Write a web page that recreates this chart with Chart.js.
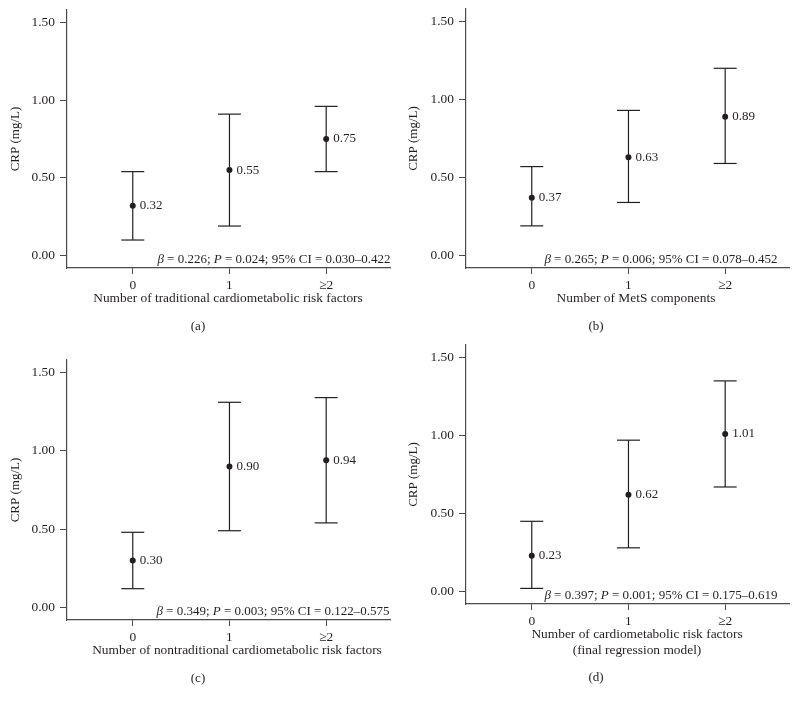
<!DOCTYPE html>
<html lang="en">
<head>
    <meta charset="UTF-8">
    <title>CRP by number of risk factors</title>
    <script src="https://cdn.jsdelivr.net/npm/chart.js"></script>
    <style>
        body { margin: 0; background: #fff; }
        .panel { position: absolute; }
    </style>
</head>
<body>
    <div class="panel" id="pa" style="left:0;top:0;width:398px;height:340px"><canvas id="chartA"></canvas></div>
    <div class="panel" id="pb" style="left:398px;top:0;width:399px;height:340px"><canvas id="chartB"></canvas></div>
    <div class="panel" id="pc" style="left:0;top:340px;width:398px;height:364px"><canvas id="chartC"></canvas></div>
    <div class="panel" id="pd" style="left:398px;top:340px;width:399px;height:364px"><canvas id="chartD"></canvas></div>
    <script>
        // categories and ticks
        const categories = ['0', '1', '\u22652'];
        const xTicks = [0, 1, 2];
        const yTicks = [0, 0.5, 1.0, 1.5];
        const yTickLabels = ['0.00', '0.50', '1.00', '1.50'];

        // geometric means and 95% CI bounds, per panel
        const meansA = [0.32, 0.55, 0.75];
        const lowerA = [0.10, 0.19, 0.54];
        const upperA = [0.54, 0.91, 0.96];

        const meansB = [0.37, 0.63, 0.89];
        const lowerB = [0.19, 0.34, 0.59];
        const upperB = [0.57, 0.93, 1.20];

        const meansC = [0.30, 0.90, 0.94];
        const lowerC = [0.12, 0.49, 0.54];
        const upperC = [0.48, 1.31, 1.34];

        const meansD = [0.23, 0.62, 1.01];
        const lowerD = [0.02, 0.28, 0.67];
        const upperD = [0.45, 0.97, 1.35];

        // regression statistics per panel
        const betas = ['0.226', '0.265', '0.349', '0.397'];
        const pValues = ['0.024', '0.006', '0.003', '0.001'];
        const ciRanges = ['0.030\u20130.422', '0.078\u20130.452', '0.122\u20130.575', '0.175\u20130.619'];

        const xTitles = [
            ['Number of traditional cardiometabolic risk factors'],
            ['Number of MetS components'],
            ['Number of nontraditional cardiometabolic risk factors'],
            ['Number of cardiometabolic risk factors', '(final regression model)']
        ];
        const panelLabels = ['(a)', '(b)', '(c)', '(d)'];
        const yTitle = 'CRP (mg/L)';

        const FONT = "'Liberation Serif', 'Times New Roman', serif";
        const INK = '#231f20';
        const AXIS = '#4a4a4a';

        // plot frame per panel (canvas-local pixels)
        const frames = [
            { left: 67, top: 10, right: 8, xh: 72, titleX: 228, annX: 274, labelY: 62 },
            { left: 68, top: 9, right: 8, xh: 72, titleX: 238, annX: 263, labelY: 62 },
            { left: 67, top: 20, right: 8, xh: 84, titleX: 237, annX: 273, labelY: 62 },
            { left: 68, top: 5, right: 8, xh: 100, titleX: 239, annX: 263, labelY: 77 }
        ];

        const panelText = {
            id: 'panelText',
            afterDraw(chart, args, opts) {
                const ctx = chart.ctx;
                const area = chart.chartArea;
                ctx.save();
                ctx.fillStyle = INK;

                // value labels beside the means
                const meta = chart.getDatasetMeta(chart.data.datasets.length - 1);
                ctx.font = '13px ' + FONT;
                ctx.textAlign = 'left';
                ctx.textBaseline = 'middle';
                meta.data.forEach((pt, i) => {
                    ctx.fillText(opts.means[i].toFixed(2), pt.x + 7, pt.y);
                });

                // regression annotation with italic symbols
                const parts = [
                    ['\u03b2', true],
                    [' = ' + opts.beta + '; ', false],
                    ['P', true],
                    [' = ' + opts.p + '; 95% CI = ' + opts.ci, false]
                ];
                let total = 0;
                parts.forEach(p => {
                    ctx.font = (p[1] ? 'italic ' : '') + '13px ' + FONT;
                    total += ctx.measureText(p[0]).width;
                });
                let x = opts.annX - total / 2;
                ctx.textBaseline = 'alphabetic';
                parts.forEach(p => {
                    ctx.font = (p[1] ? 'italic ' : '') + '13px ' + FONT;
                    ctx.fillText(p[0], x, area.bottom - 5);
                    x += ctx.measureText(p[0]).width;
                });

                // x-axis title
                ctx.font = '13.4px ' + FONT;
                ctx.textAlign = 'center';
                opts.xTitle.forEach((line, i) => {
                    ctx.fillText(line, opts.titleX, area.bottom + 34 + i * 16);
                });

                // panel label
                ctx.font = '13px ' + FONT;
                ctx.fillText(opts.label, 198, area.bottom + opts.labelY);

                // y-axis title
                ctx.translate(16, (area.top + area.bottom) / 2);
                ctx.rotate(-Math.PI / 2);
                ctx.textBaseline = 'middle';
                ctx.fillText(yTitle, 0, 0);
                ctx.restore();
            }
        };

        function makeChart(id, idx, means, lower, upper) {
            const f = frames[idx];
            const datasets = xTicks.map((xv, i) => ({
                data: [{ x: xv, y: lower[i] }, { x: xv, y: upper[i] }],
                showLine: true,
                borderColor: INK,
                borderWidth: 1.2,
                pointStyle: 'line',
                pointRadius: 11.5,
                pointBorderColor: INK,
                pointBorderWidth: 1.2
            }));
            datasets.push({
                data: xTicks.map((xv, i) => ({ x: xv, y: means[i] })),
                pointStyle: 'circle',
                pointRadius: 3,
                pointBackgroundColor: INK,
                pointBorderColor: INK,
                pointBorderWidth: 0
            });

            return new Chart(document.getElementById(id), {
                type: 'scatter',
                data: { datasets },
                plugins: [panelText],
                options: {
                    responsive: true,
                    maintainAspectRatio: false,
                    animation: false,
                    events: [],
                    layout: {
                        autoPadding: false,
                        padding: { top: f.top, right: f.right, left: 0, bottom: 0 }
                    },
                    plugins: {
                        legend: { display: false },
                        tooltip: { enabled: false },
                        panelText: {
                            means,
                            beta: betas[idx],
                            p: pValues[idx],
                            ci: ciRanges[idx],
                            xTitle: xTitles[idx],
                            label: panelLabels[idx],
                            titleX: f.titleX,
                            annX: f.annX,
                            labelY: f.labelY
                        }
                    },
                    scales: {
                        x: {
                            type: 'linear',
                            min: -0.68,
                            max: 2.66,
                            afterBuildTicks: s => { s.ticks = xTicks.map(v => ({ value: v })); },
                            afterFit: s => {
                                s.height = f.xh;
                                s.paddingLeft = 0;
                                s.paddingRight = 0;
                            },
                            ticks: {
                                callback: v => categories[xTicks.indexOf(v)],
                                color: INK,
                                font: { family: FONT, size: 13.4 },
                                padding: 3,
                                maxRotation: 0
                            },
                            grid: { display: true, drawOnChartArea: false, drawTicks: true, tickLength: 6, color: AXIS, lineWidth: 1 },
                            border: { display: true, color: AXIS, width: 1.2 }
                        },
                        y: {
                            min: -0.08,
                            max: 1.58,
                            afterBuildTicks: s => { s.ticks = yTicks.map(v => ({ value: v })); },
                            afterFit: s => {
                                s.width = f.left;
                                s.paddingTop = 0;
                                s.paddingBottom = 0;
                            },
                            ticks: {
                                callback: v => yTickLabels[yTicks.indexOf(v)],
                                color: INK,
                                font: { family: FONT, size: 13.4 },
                                padding: 5
                            },
                            grid: { display: true, drawOnChartArea: false, drawTicks: true, tickLength: 7, color: AXIS, lineWidth: 1 },
                            border: { display: true, color: AXIS, width: 1.2 }
                        }
                    }
                }
            });
        }

        makeChart('chartA', 0, meansA, lowerA, upperA);
        makeChart('chartB', 1, meansB, lowerB, upperB);
        makeChart('chartC', 2, meansC, lowerC, upperC);
        makeChart('chartD', 3, meansD, lowerD, upperD);
    </script>
</body>
</html>
